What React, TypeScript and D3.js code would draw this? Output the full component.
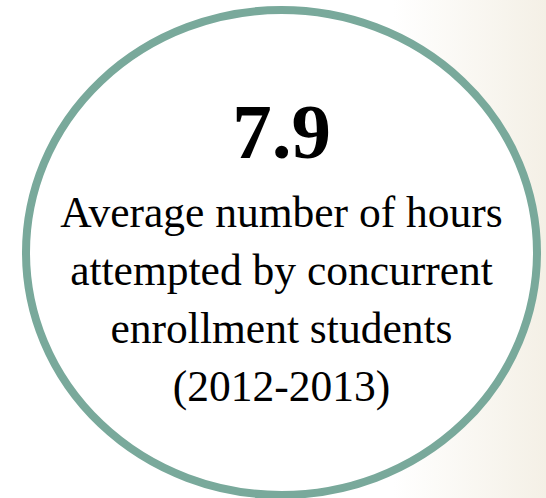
import {useEffect, useRef} from "react";
import * as d3 from "d3";

// Figures
const statValue = ["7.9"];
const labelLines = [
    "Average number of hours",
    "attempted by concurrent",
    "enrollment students",
    "(2012-2013)"
];

const W = 546;
const H = 498;

const App = () => {
    const svgRef = useRef<SVGSVGElement>(null);

    useEffect(() => {
        const svg = d3.select(svgRef.current);
        svg.selectAll("*").remove();

        const defs = svg.append("defs");
        const grad = defs.append("linearGradient")
            .attr("id", "bg")
            .attr("x1", "0%").attr("x2", "100%")
            .attr("y1", "0%").attr("y2", "0%");
        grad.append("stop").attr("offset", "72%").attr("stop-color", "#ffffff");
        grad.append("stop").attr("offset", "100%").attr("stop-color", "#f4f0e6");

        svg.append("rect")
            .attr("width", W).attr("height", H)
            .attr("fill", "url(#bg)");

        const cx = 281.5, cy = 252.5;

        svg.append("ellipse")
            .attr("cx", cx).attr("cy", cy)
            .attr("rx", 255.5).attr("ry", 242.5)
            .attr("fill", "#ffffff")
            .attr("stroke", "#79a99b")
            .attr("stroke-width", 8);

        svg.selectAll("text.value")
            .data(statValue)
            .enter()
            .append("text")
            .attr("class", "value")
            .attr("x", cx)
            .attr("y", 158)
            .attr("text-anchor", "middle")
            .attr("font-family", "'Liberation Serif', 'DejaVu Serif', serif")
            .attr("font-weight", "bold")
            .attr("font-size", 79)
            .attr("fill", "#000")
            .text(d => d);

        // baselines for the label lines
        const y = d3.scaleLinear().domain([0, 1]).range([227, 285]);

        svg.selectAll("text.label")
            .data(labelLines)
            .enter()
            .append("text")
            .attr("class", "label")
            .attr("x", cx)
            .attr("y", (d, i) => y(i))
            .attr("text-anchor", "middle")
            .attr("font-family", "'Liberation Serif', 'DejaVu Serif', serif")
            .attr("font-size", 43.5)
            .attr("fill", "#000")
            .text(d => d);
    }, []);

    return (
        <svg ref={svgRef} width={W} height={H}
             style={{position: "absolute", left: 0, top: 0, display: "block"}} />
    );
}

export default App;
